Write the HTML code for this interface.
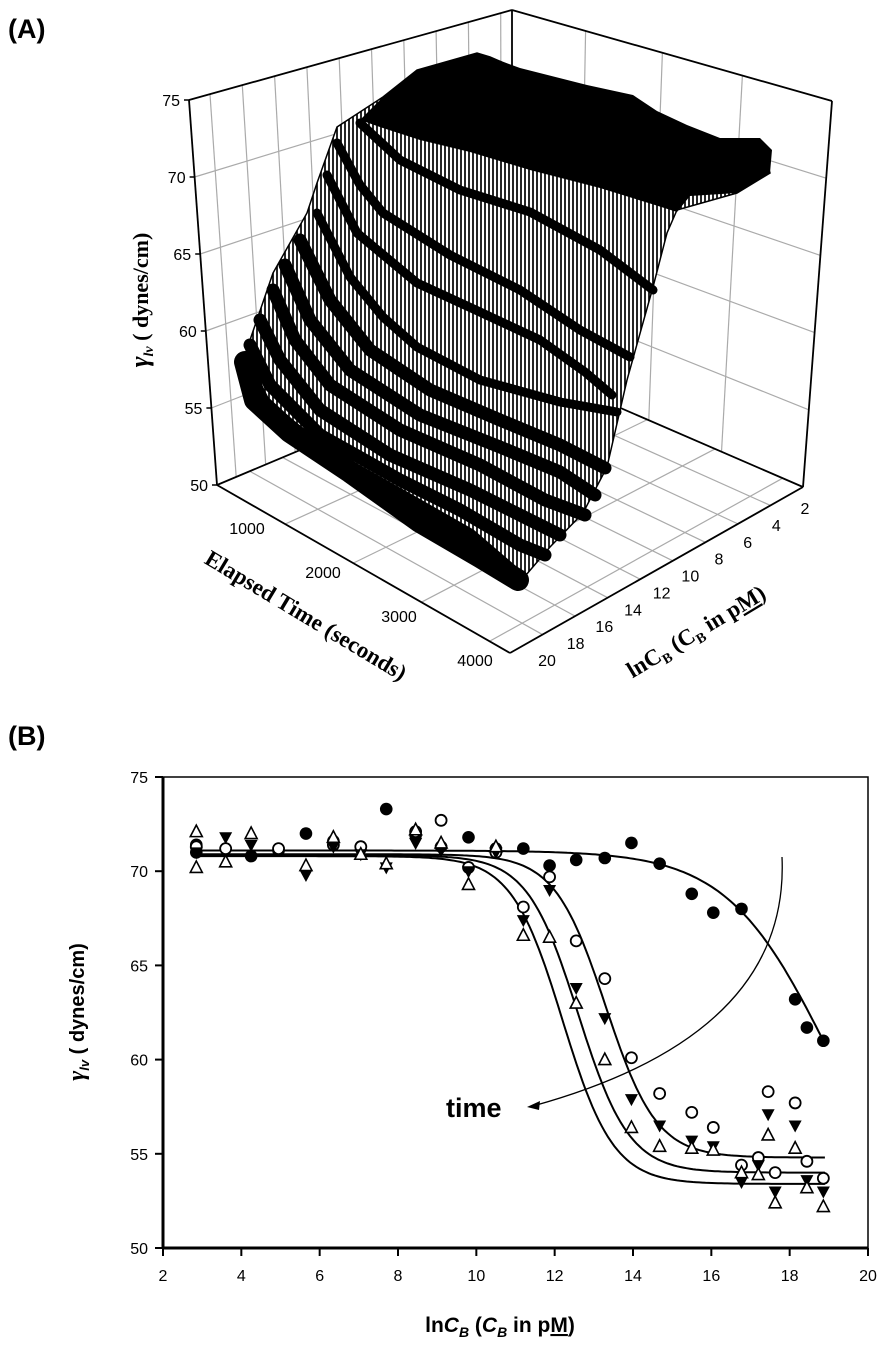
<!DOCTYPE html>
<html><head><meta charset="utf-8"><title>Surface tension figure</title>
<style>
html,body{margin:0;padding:0;background:#fff;}
svg{display:block;font-family:"Liberation Sans",sans-serif;}
</style></head>
<body>
<svg id="fig" width="888" height="1347" viewBox="0 0 888 1347" xmlns="http://www.w3.org/2000/svg">
<defs>
<pattern id="hatch" width="4" height="8" patternUnits="userSpaceOnUse">
<rect width="4" height="8" fill="#fff"/>
<line x1="1" y1="0" x2="1" y2="8" stroke="#000" stroke-width="1.7"/>
</pattern>
</defs>
<text x="8" y="38" font-size="27" font-weight="bold">(A)</text>
<g id="panelA"></g>
<text x="8" y="745" font-size="27" font-weight="bold">(B)</text>
<g id="panelB"></g>
</svg>
<script>
// ---------- Panel B data ----------
const xTicksB = [2,4,6,8,10,12,14,16,18,20];
const yTicksB = [50,55,60,65,70,75];
const filledCircleX = [2.85,2.85,4.25,4.95,5.65,6.35,7.7,8.45,9.1,9.8,10.5,11.2,11.87,12.55,13.28,13.96,14.68,15.5,16.05,16.77,18.14,18.44,18.86];
const filledCircleY = [71.4,71.0,70.8,71.1,72.0,71.6,73.3,71.9,71.3,71.8,71.2,71.2,70.3,70.6,70.7,71.5,70.4,68.8,67.8,68.0,63.2,61.7,61.0];
const openCircleX = [2.85,3.6,4.95,6.35,7.05,8.45,9.1,9.8,10.5,11.2,11.87,12.55,13.28,13.96,14.68,15.5,16.05,16.77,17.2,17.45,17.63,18.14,18.44,18.86];
const openCircleY = [71.3,71.2,71.2,71.4,71.3,72.1,72.7,70.2,71.0,68.1,69.7,66.3,64.3,60.1,58.2,57.2,56.4,54.4,54.8,58.3,54.0,57.7,54.6,53.7];
const downTriX = [2.85,3.6,4.25,5.65,6.35,7.05,7.7,8.45,9.1,9.8,10.5,11.2,11.87,12.55,13.28,13.96,14.68,15.5,16.05,16.77,17.2,17.45,17.63,18.14,18.44,18.86];
const downTriY = [71.0,71.8,71.4,69.8,71.3,70.9,70.2,71.5,71.1,70.0,71.0,67.4,69.0,63.8,62.2,57.9,56.5,55.7,55.4,53.5,54.4,57.1,53.0,56.5,53.6,53.0];
const upTriX = [2.85,2.85,3.6,4.25,5.65,6.35,7.05,7.7,8.45,9.1,9.8,10.5,11.2,11.87,12.55,13.28,13.96,14.68,15.5,16.05,16.77,17.2,17.45,17.63,18.14,18.44,18.86];
const upTriY = [72.1,70.2,70.5,72.0,70.3,71.8,70.9,70.4,72.2,71.5,69.3,71.3,66.6,66.5,63.0,60.0,56.4,55.4,55.3,55.2,54.0,53.9,56.0,52.4,55.3,53.2,52.2];
const fitTop = [71.1,70.9,70.85,70.8];
const fitBottom = [50.0,54.8,54.0,53.4];
const fitCenter = [18.97,13.3,12.6,12.2];
const fitSlope = [1.29,0.65,0.65,0.65];

// ---------- Panel A data ----------
const zTicksA = [75,70,65,60,55,50];
const timeTicksA = [1000,2000,3000,4000];
const lnTicksA = [2,4,6,8,10,12,14,16,18,20];

const NS = "http://www.w3.org/2000/svg";
function mk(parent, tag, attrs){const e=document.createElementNS(NS,tag);for(const k in attrs)e.setAttribute(k,attrs[k]);parent.appendChild(e);return e;}

// ===== Panel B =====
(function(){
  const g = document.getElementById('panelB');
  const L=163,R=868,T=777,B=1248;
  const xs = v => L + (v-2)/18*(R-L);
  const ys = v => T + (75-v)/25*(B-T);
  const frame = mk(g,'rect',{x:L,y:T,width:R-L,height:B-T,fill:'none',stroke:'#000','stroke-width':1.5});
  
  
  const ya = mk(g,'line',{x1:L,y1:T,x2:L,y2:B,stroke:'#000','stroke-width':3});
  
  
  const xa = mk(g,'line',{x1:L,y1:B,x2:R,y2:B,stroke:'#000','stroke-width':3});
  
  
  xTicksB.forEach(v=>{
    const t=mk(g,'line',{x1:xs(v),y1:B,x2:xs(v),y2:B+8,stroke:'#000','stroke-width':2});
    
    
    const l=mk(g,'text',{x:xs(v),y:B+33,'font-size':16,'text-anchor':'middle'});
    l.textContent=v;
    
    
  });
  yTicksB.forEach(v=>{
    const t=mk(g,'line',{x1:L-8,y1:ys(v),x2:L,y2:ys(v),stroke:'#000','stroke-width':2});
    
    
    const l=mk(g,'text',{x:L-15,y:ys(v)+6,'font-size':16,'text-anchor':'end'});
    l.textContent=v;
    
    
  });
  for(let i=0;i<4;i++){
    let d='';
    for(let k=0;k<=200;k++){
      const x=2.85+k*(18.9-2.85)/200;
      const y=fitBottom[i]+(fitTop[i]-fitBottom[i])/(1+Math.exp((x-fitCenter[i])/fitSlope[i]));
      d+=(k?'L':'M')+xs(x).toFixed(1)+','+ys(y).toFixed(1);
    }
    const p=mk(g,'path',{d:d,fill:'none',stroke:'#000','stroke-width':2});
    
    
  }
  filledCircleX.forEach((x,i)=>{
    const c=mk(g,'circle',{cx:xs(x),cy:ys(filledCircleY[i]),r:6.3,fill:'#000'});
    
    
  });
  openCircleX.forEach((x,i)=>{
    const c=mk(g,'circle',{cx:xs(x),cy:ys(openCircleY[i]),r:5.5,fill:'#fff',stroke:'#000','stroke-width':1.8});
    
    
  });
  downTriX.forEach((x,i)=>{
    const cx=xs(x),cy=ys(downTriY[i]);
    const p=mk(g,'polygon',{points:`${cx-6.5},${cy-5} ${cx+6.5},${cy-5} ${cx},${cy+7}`,fill:'#000'});
    
    
  });
  upTriX.forEach((x,i)=>{
    const cx=xs(x),cy=ys(upTriY[i]);
    const p=mk(g,'polygon',{points:`${cx-6},${cy+5} ${cx+6},${cy+5} ${cx},${cy-6.5}`,fill:'#fff',stroke:'#000','stroke-width':1.6});
    
    
  });
  const ar=mk(g,'path',{d:'M782,857 Q790,1035 533,1106',fill:'none',stroke:'#000','stroke-width':1.3});
  
  
  const ah=mk(g,'polygon',{points:'527,1107 540,1101 539,1110',fill:'#000'});
  
  
  const tt=mk(g,'text',{x:446,y:1117,'font-size':27,'font-weight':'bold'});
  tt.textContent='time';
  
  
  const xt=mk(g,'text',{x:500,y:1332,'font-size':21,'font-weight':'bold','text-anchor':'middle'});
  xt.innerHTML='ln<tspan font-style="italic">C</tspan><tspan font-style="italic" font-size="14" dy="5">B</tspan><tspan dy="-5"> (</tspan><tspan font-style="italic">C</tspan><tspan font-style="italic" font-size="14" dy="5">B</tspan><tspan dy="-5"> in p</tspan><tspan text-decoration="underline">M</tspan>)';
  
  
  const yt=mk(g,'text',{x:0,y:0,'font-size':20,'font-weight':'bold','text-anchor':'middle',transform:'translate(84,1012) rotate(-90)'});
  yt.innerHTML='<tspan font-family="Liberation Serif" font-style="italic" font-size="24">γ</tspan><tspan font-style="italic" font-size="13" dy="5">lv</tspan><tspan dy="-5"> ( dynes/cm)</tspan>';
  
  
})();

// ===== Panel A =====
(function(){
  const g=document.getElementById('panelA');
  function bil(P,u,v){
    const top=[P[0][0]+(P[1][0]-P[0][0])*u,P[0][1]+(P[1][1]-P[0][1])*u];
    const bot=[P[3][0]+(P[2][0]-P[3][0])*u,P[3][1]+(P[2][1]-P[3][1])*u];
    return [top[0]+(bot[0]-top[0])*v, top[1]+(bot[1]-top[1])*v];
  }
  const leftWall=[[189,100],[512,10],[512,361],[217,485]];
  const rightWall=[[512,10],[832,101],[803,487],[512,361]];
  const floor=[[217,485],[512,361],[803,487],[510,653]];
  const vz = z => (75-z)/25;
  function seg(P,a,b,name,col,w){
    const p1=bil(P,a[0],a[1]),p2=bil(P,b[0],b[1]);
    const l=mk(g,'line',{x1:p1[0],y1:p1[1],x2:p2[0],y2:p2[1],stroke:col,'stroke-width':w});
    
    
  }
  for(let k=0;k<10;k++){const u=0.065+0.1*k; seg(leftWall,[u,0],[u,1],'left-wall-gridline','#aaa',1.2);}
  zTicksA.forEach(z=>seg(leftWall,[0,vz(z)],[1,vz(z)],'left-wall-gridline','#aaa',1.2));
  [0.23,0.47,0.72].forEach(u=>seg(rightWall,[u,0],[u,1],'right-wall-gridline','#aaa',1.2));
  zTicksA.forEach(z=>seg(rightWall,[0,vz(z)],[1,vz(z)],'right-wall-gridline','#aaa',1.2));
  lnTicksA.forEach(v=>{const u=(20-v)/18; seg(floor,[u,0],[u,1],'floor-gridline','#aaa',1.2);});
  [0,1000,2000,3000,4000].forEach(t=>{const v=t/4300; seg(floor,[0,v],[1,v],'floor-gridline','#aaa',1.2);});
  const edges=[[[189,100],[512,10]],[[512,10],[832,101]],[[189,100],[217,485]],[[832,101],[803,487]],[[217,485],[510,653]],[[510,653],[803,487]],[[217,485],[512,361]],[[512,361],[803,487]],[[512,10],[512,361]]];
  edges.forEach(e=>{
    const l=mk(g,'line',{x1:e[0][0],y1:e[0][1],x2:e[1][0],y2:e[1][1],stroke:'#000','stroke-width':1.8});
    
    
  });
  zTicksA.forEach(z=>{
    const p=bil(leftWall,0,vz(z));
    const t=mk(g,'line',{x1:p[0]-5,y1:p[1],x2:p[0],y2:p[1],stroke:'#000','stroke-width':1.5});
    
    
    const l=mk(g,'text',{x:p[0]-9,y:p[1]+6,'font-size':16,'text-anchor':'end'});
    l.textContent=z;
    
    
  });
  timeTicksA.forEach(t=>{
    const f=(t-1000)/3000;
    const l=mk(g,'text',{x:247+f*228,y:534+f*132,'font-size':16,'text-anchor':'middle'});
    l.textContent=t;
    
    
  });
  lnTicksA.forEach(v=>{
    const f=(20-v)/18;
    const l=mk(g,'text',{x:547+f*258,y:666-f*152,'font-size':16,'text-anchor':'middle'});
    l.textContent=v;
    
    
  });
  const surf=[[337,127],[317,183],[307,213],[273,273],[250,340],[243,360],[250,390],[277,430],[317,457],[367,493],[417,527],[483,557],[520,582],[550,547],[583,513],[607,467],[627,380],[653,287],[667,233],[677,210],[737,193],[770,173],[760,140],[720,140],[687,127],[657,113],[633,97],[587,87],[520,70],[490,57],[477,53],[417,70],[383,97]];
  const s=mk(g,'polygon',{points:surf.map(p=>p.join(',')).join(' '),fill:'url(#hatch)',stroke:'#000','stroke-width':1.5});
  
  
  const plat=[[383,97],[417,70],[477,53],[490,57],[520,68],[587,85],[633,95],[657,111],[687,125],[720,138],[760,138],[772,150],[770,173],[737,193],[690,196],[677,212],[655,205],[600,188],[530,170],[470,152],[420,140],[380,127],[360,120]];
  const pl=mk(g,'polygon',{points:plat.map(p=>p.join(',')).join(' '),fill:'#000'});
  
  
  const bands=[
    [[360,123],[400,160],[460,190],[530,212],[600,250],[653,290]],
    [[337,143],[360,185],[383,213],[450,255],[520,290],[580,330],[630,357]],
    [[327,175],[357,233],[417,283],[480,312],[540,340],[585,372],[612,395]],
    [[317,213],[350,277],[383,317],[417,347],[480,380],[560,402],[617,412]],
    [[300,240],[330,300],[370,350],[430,390],[500,420],[560,445],[605,468]],
    [[285,265],[310,320],[350,370],[420,415],[500,447],[560,472],[595,495]],
    [[273,290],[295,340],[330,385],[400,430],[480,465],[545,500],[585,515]],
    [[260,320],[280,360],[320,410],[390,455],[470,490],[530,520],[560,535]],
    [[250,345],[270,385],[320,435],[400,480],[460,510],[520,545],[545,555]],
    [[245,365],[265,405],[320,450],[400,495],[470,535],[520,578]]
  ];
  bands.forEach((b,i)=>{
    const p=mk(g,'polyline',{points:b.map(q=>q.join(',')).join(' '),fill:'none',stroke:'#000','stroke-width':i<4?9:13,'stroke-linejoin':'round','stroke-linecap':'round'});
    
    
  });
  const bm=mk(g,'polyline',{points:'245,362 255,400 290,432 350,472 420,522 480,557 518,580',fill:'none',stroke:'#000','stroke-width':22,'stroke-linejoin':'round','stroke-linecap':'round'});
  
  
  const zt=mk(g,'text',{x:0,y:0,'font-size':22,'font-weight':'bold','font-family':'Liberation Serif','text-anchor':'middle',transform:'translate(148,300) rotate(-90)'});
  zt.innerHTML='<tspan font-style="italic" font-size="26">γ</tspan><tspan font-style="italic" font-size="14" dy="5">lv</tspan><tspan dy="-5"> ( dynes/cm)</tspan>';
  
  
  const tt=mk(g,'text',{x:0,y:0,'font-size':23,'font-weight':'bold','font-family':'Liberation Serif','text-anchor':'middle',transform:'translate(302,622) rotate(31)'});
  tt.textContent='Elapsed Time (seconds)';
  
  
  const lt=mk(g,'text',{x:0,y:0,'font-size':23,'font-weight':'bold','font-family':'Liberation Serif','text-anchor':'middle',transform:'translate(700,638) rotate(-31)'});
  lt.innerHTML='lnC<tspan font-size="14" dy="5">B</tspan><tspan dy="-5"> (C</tspan><tspan font-size="14" dy="5">B</tspan><tspan dy="-5"> in p</tspan><tspan text-decoration="underline">M</tspan>)';
  
  
})();
</script>
</body></html>
